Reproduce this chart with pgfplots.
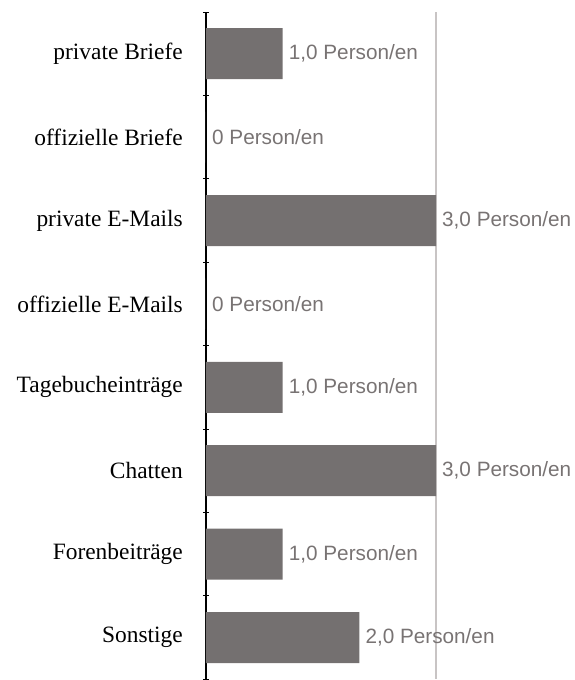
\documentclass[border=0pt]{standalone}
\usepackage{fontspec}
\setmainfont{Liberation Serif}
\newfontfamily\valfont{Liberation Sans}
\usepackage{pgfplots}
\usepackage{pgfplotstable}
\pgfplotsset{compat=1.18}
\definecolor{barcol}{RGB}{116,112,112}
\definecolor{valcol}{RGB}{120,115,115}
\definecolor{linecol}{RGB}{200,196,196}
\pgfplotstableread[col sep=semicolon]{
i;v;lab
0;1;1,0 Person/en
1;0;0 Person/en
2;3;3,0 Person/en
3;0;0 Person/en
4;1;1,0 Person/en
5;3;3,0 Person/en
6;1;1,0 Person/en
7;2;2,0 Person/en
}\data
\begin{document}
\begin{tikzpicture}
\begin{axis}[
  x=76.67bp, y=83.4bp,
  xmin=0, xmax=3, ymin=-0.5, ymax=7.5, y dir=reverse,
  axis x line=none,
  axis y line*=left,
  y axis line style={-, black, line width=1.2bp},
  ytick={0,...,7},
  yticklabels={private Briefe,offizielle Briefe,private E-Mails,offizielle E-Mails,Tagebucheinträge,Chatten,Forenbeiträge,Sonstige},
  minor ytick={-0.5,0.5,1.5,2.5,3.5,4.5,5.5,6.5,7.5},
  major tick length=0pt,
  minor tick length=6bp,
  tick align=center,
  minor tick style={black, line width=0.8bp},
  yticklabel style={font=\fontsize{23.5}{23.5}\selectfont, inner sep=0pt, xshift=-23bp},
  clip=false,
]
\coordinate (O) at (axis cs:0,-0.5);
\addplot[draw=linecol, line width=1.4bp] coordinates {(3,-0.5) (3,7.5)};
\addplot[xbar, bar width=51bp, fill=barcol, draw=none,
  point meta=explicit symbolic,
  nodes near coords,
  nodes near coords style={font=\valfont\fontsize{20.8}{20.8}\selectfont, text=valcol, anchor=west, inner sep=0pt, xshift=6bp}]
  table[x=v, y=i, meta=lab] {\data};
\end{axis}
\pgfresetboundingbox
\path ([shift={(-206bp,12bp)}]O) rectangle ([shift={(369bp,-668bp)}]O);
\end{tikzpicture}
\end{document}
